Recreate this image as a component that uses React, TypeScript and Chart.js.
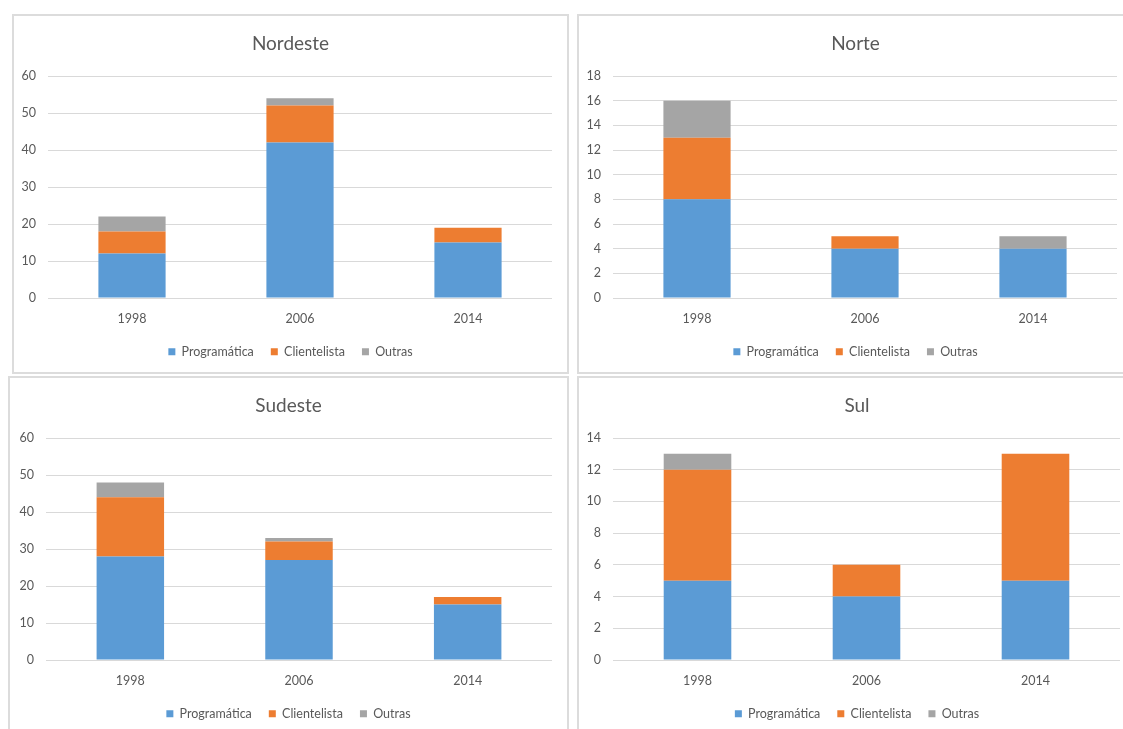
import React, { useEffect, useRef } from "react";
import { Chart, registerables } from "chart.js";

Chart.register(...registerables);

const years = ["1998", "2006", "2014"];
const seriesNames = ["Programática", "Clientelista", "Outras"];
const seriesColors = ["#5B9BD5", "#ED7D31", "#A5A5A5"];

const nordesteProgramatica = [12, 42, 15];
const nordesteClientelista = [6, 10, 4];
const nordesteOutras = [4, 2, 0];

const norteProgramatica = [8, 4, 4];
const norteClientelista = [5, 1, 0];
const norteOutras = [3, 0, 1];

const sudesteProgramatica = [28, 27, 15];
const sudesteClientelista = [16, 5, 2];
const sudesteOutras = [4, 1, 0];

const sulProgramatica = [5, 4, 5];
const sulClientelista = [7, 2, 8];
const sulOutras = [1, 0, 0];

const FONT = "Lato, 'Open Sans', sans-serif";
const TEXT = "#595959";

type PanelProps = {
  title: string;
  values: number[][];
  yMax: number;
  yStep: number;
  left: number;
  top: number;
  width: number;
  height: number;
  yAxisWidth: number;
  rightGap: number;
};

function Panel(p: PanelProps) {
  const ref = useRef<HTMLCanvasElement | null>(null);
  useEffect(() => {
    if (!ref.current) return;
    const chart = new Chart(ref.current, {
      type: "bar",
      data: {
        labels: years,
        datasets: seriesNames.map((name, i) => ({
          label: name,
          data: p.values[i],
          backgroundColor: seriesColors[i],
          borderWidth: 0,
          barPercentage: 0.4,
          categoryPercentage: 1,
          yAxisID: "y",
        })),
      },
      options: {
        responsive: false,
        animation: false,
        layout: { padding: { left: 0, right: 0, top: 0, bottom: 6 } },
        plugins: {
          title: {
            display: true,
            text: p.title,
            color: TEXT,
            font: { family: FONT, size: 19, weight: "normal", lineHeight: 1.2 },
            padding: { top: 18.6, bottom: 20.6 },
          },
          legend: {
            display: true,
            position: "bottom",
            labels: {
              color: TEXT,
              font: { family: FONT, size: 12.5 },
              boxWidth: 7,
              boxHeight: 7,
              padding: 17,
            },
          },
          tooltip: { enabled: false },
        },
        scales: {
          x: {
            stacked: true,
            grid: { display: false, drawTicks: false },
            border: { display: false },
            ticks: {
              color: TEXT,
              font: { family: FONT, size: 12.5 },
              padding: 13.5,
            },
            afterFit: (axis: any) => {
              axis.height = 30.5;
            },
          },
          y: {
            stacked: true,
            position: "left",
            min: 0,
            max: p.yMax,
            grid: { color: "#D9D9D9", drawTicks: false, lineWidth: 1 },
            border: { display: false },
            ticks: {
              stepSize: p.yStep,
              color: TEXT,
              font: { family: FONT, size: 12.5 },
              padding: 12,
            },
            afterFit: (axis: any) => {
              axis.width = p.yAxisWidth;
            },
          },
          gap: {
            type: "linear",
            position: "right",
            display: true,
            grid: { display: false, drawTicks: false },
            border: { display: false },
            ticks: { display: false },
            afterFit: (axis: any) => {
              axis.width = p.rightGap;
            },
          },
        },
      },
    });
    return () => chart.destroy();
  }, []);
  return (
    <>
      <canvas
        ref={ref}
        width={p.width}
        height={p.height}
        style={{
          position: "absolute",
          left: p.left,
          top: p.top,
          width: p.width,
          height: p.height,
        }}
      />
      <div
        style={{
          position: "absolute",
          left: p.left,
          top: p.top,
          width: p.width,
          height: p.height,
          border: "2px solid #DCDCDC",
          boxSizing: "border-box",
          pointerEvents: "none",
        }}
      />
    </>
  );
}

export default function App() {
  return (
    <div
      style={{
        position: "fixed",
        left: 0,
        top: 0,
        width: 1123,
        height: 729,
        overflow: "hidden",
        background: "#fff",
      }}
    >
      <Panel
        title="Nordeste"
        values={[nordesteProgramatica, nordesteClientelista, nordesteOutras]}
        yMax={60}
        yStep={10}
        left={12}
        top={14}
        width={557}
        height={360}
        yAxisWidth={36}
        rightGap={17}
      />
      <Panel
        title="Norte"
        values={[norteProgramatica, norteClientelista, norteOutras]}
        yMax={18}
        yStep={2}
        left={577}
        top={14}
        width={557}
        height={360}
        yAxisWidth={36}
        rightGap={17}
      />
      <Panel
        title="Sudeste"
        values={[sudesteProgramatica, sudesteClientelista, sudesteOutras]}
        yMax={60}
        yStep={10}
        left={8}
        top={376}
        width={561}
        height={360}
        yAxisWidth={38}
        rightGap={17}
      />
      <Panel
        title="Sul"
        values={[sulProgramatica, sulClientelista, sulOutras]}
        yMax={14}
        yStep={2}
        left={577}
        top={376}
        width={560}
        height={360}
        yAxisWidth={36}
        rightGap={17}
      />
    </div>
  );
}
